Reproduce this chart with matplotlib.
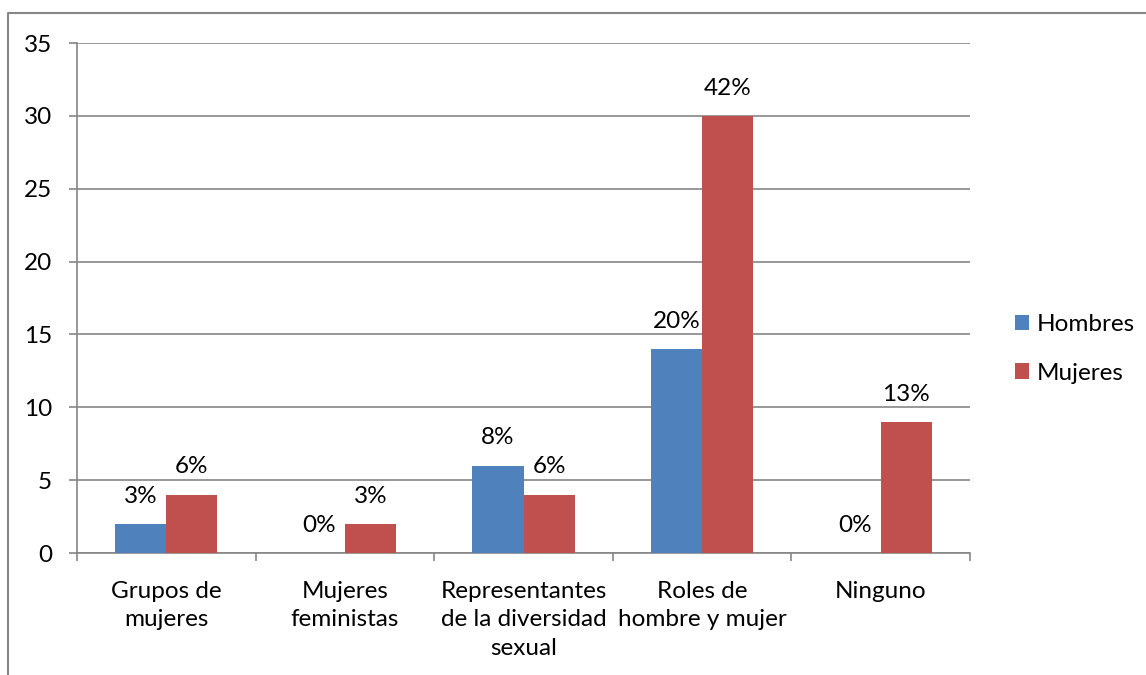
import matplotlib.pyplot as plt
import numpy as np
from matplotlib.lines import Line2D

# Data
categories = ['Grupos de\nmujeres', 'Mujeres\nfeministas', 'Representantes\nde la diversidad\nsexual',
              'Roles de\nhombre y mujer', 'Ninguno']
hombres = [2, 0, 6, 14, 0]
mujeres = [4, 2, 4, 30, 9]
hombres_pct = ['3%', '0%', '8%', '20%', '0%']
mujeres_pct = ['6%', '3%', '6%', '42%', '13%']

plt.rcParams['font.family'] = ['Lato', 'DejaVu Sans']
FS = 17.5

fig = plt.figure(figsize=(11.46, 6.75), dpi=100)
ax = fig.add_axes([77 / 1146, 1 - 553 / 675, 893 / 1146, 510 / 675])

grid_col = '#868686'
x = np.arange(len(categories))
width = 1 / 3.5

b1 = ax.bar(x - width / 2, hombres, width, color='#4F81BD', label='Hombres', zorder=3)
b2 = ax.bar(x + width / 2, mujeres, width, color='#C0504D', label='Mujeres', zorder=3)

for bars, labels in ((b1, hombres_pct), (b2, mujeres_pct)):
    for bar, lab in zip(bars, labels):
        ax.annotate(lab, (bar.get_x() + bar.get_width() / 2, bar.get_height()),
                    xytext=(0, 20), textcoords='offset points',
                    ha='center', va='center', fontsize=FS)

ax.set_xlim(-0.5, len(categories) - 0.5)
ax.set_ylim(0, 35)
ax.set_yticks(range(0, 36, 5))
ax.yaxis.grid(True, color=grid_col, linewidth=1.2, zorder=0)
ax.set_axisbelow(True)

# category boundary ticks
ax.set_xticks(np.arange(-0.5, len(categories), 1))
ax.set_xticklabels([])
ax.set_xticks(x, minor=True)
ax.set_xticklabels(categories, minor=True, fontsize=FS, linespacing=1.45)
ax.tick_params(axis='x', which='minor', length=0, pad=20)
ax.tick_params(axis='x', which='major', length=6, color=grid_col, width=1.2)
ax.tick_params(axis='y', length=6, color=grid_col, width=1.2, labelsize=FS, pad=12)

for s in ('top', 'right'):
    ax.spines[s].set_visible(False)
for s in ('left', 'bottom'):
    ax.spines[s].set_color(grid_col)
    ax.spines[s].set_linewidth(1.2)

leg = fig.legend(handles=[b1, b2], loc='center left', bbox_to_anchor=(993 / 1146, 1 - 349 / 675),
                 frameon=False, fontsize=FS, handlelength=0.58, handleheight=0.58,
                 handletextpad=0.33, labelspacing=1.12)

# outer chart border (partly cut off at right and bottom)
fig.add_artist(Line2D([8 / 1146, 8 / 1146, 1.0], [0.0, 1 - 13 / 675, 1 - 13 / 675],
                      transform=fig.transFigure, color=grid_col, linewidth=1.5))

fig.savefig('out.png', dpi=100)
